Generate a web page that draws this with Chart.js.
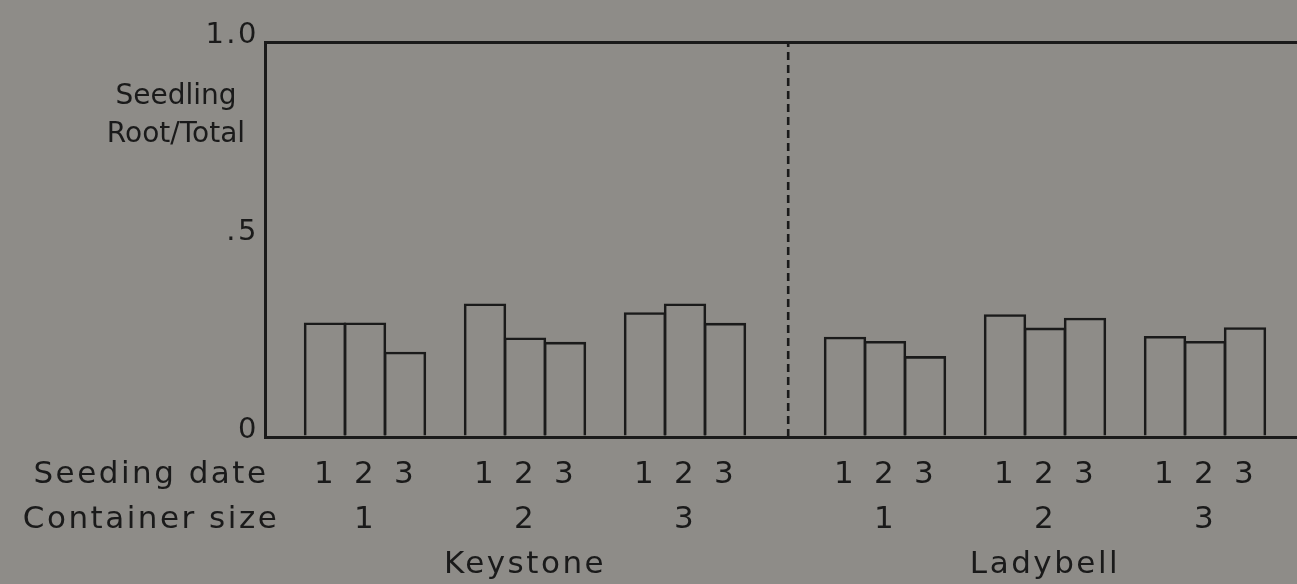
<!DOCTYPE html>
<html>
<head>
<meta charset="utf-8">
<script src="https://cdn.jsdelivr.net/npm/chart.js@4/dist/chart.umd.min.js"></script>
<style>
  html, body { margin: 0; padding: 0; background: #8e8c88; overflow: hidden; }
  #wrap { position: relative; width: 1297px; height: 584px; }
  canvas { display: block; }
</style>
</head>
<body>
<div id="wrap"><canvas id="chart" width="1297" height="584"></canvas></div>
<script>
// Root / total dry-weight ratio of seedlings, by variety, container size and seeding date
const varieties = ['Keystone', 'Ladybell'];
const containerSizes = ['1', '2', '3'];
const seedingDates = ['1', '2', '3'];
// values run container 1 (dates 1-3), container 2 (dates 1-3), container 3 (dates 1-3)
const keystoneRatio = [0.290, 0.290, 0.216, 0.338, 0.252, 0.241, 0.316, 0.338, 0.289];
const ladybellRatio = [0.254, 0.243, 0.205, 0.311, 0.277, 0.302, 0.256, 0.243, 0.278];
const yTickValues = [0, 0.5, 1];
const yTickLabels = ['0', '.5', '1.0'];
const yTitleLines = ['Seedling', 'Root/Total'];
const rowHeaders = ['Seeding date', 'Container size'];

const INK = '#1a1a1a';
const FONT = "'DejaVu Sans', sans-serif";
const LABEL_SIZE = 31;
const ROW_STEP = 45;
const X_PAD = 15;
const SPACING = '2.5px';

// slot layout on the x scale: one empty slot between container groups,
// two empty slots between the varieties (the divider sits in between)
const GROUP_SLOTS = 4;
const VARIETY_SLOTS = 13;
function slotCentre(v, c, d) { return 1.5 + d + c * GROUP_SLOTS + v * VARIETY_SLOTS; }
const dividerX = VARIETY_SLOTS + 0.08;

const seriesByVariety = [keystoneRatio, ladybellRatio];
const bars = [];
const tickInfo = [];
varieties.forEach((variety, v) => {
  containerSizes.forEach((size, c) => {
    seedingDates.forEach((date, d) => {
      const x = slotCentre(v, c, d);
      bars.push({ x: x, y: seriesByVariety[v][c * seedingDates.length + d] });
      tickInfo.push({
        value: x,
        lines: [date, d === 1 ? size : '', (d === 1 && c === 1) ? variety : '']
      });
    });
  });
});

// axis captions drawn beside the scales
const captions = {
  id: 'captions',
  beforeDraw(chart) {
    chart.ctx.letterSpacing = SPACING;
  },
  afterDraw(chart) {
    const ctx = chart.ctx;
    const xs = chart.scales.x;
    ctx.save();
    ctx.letterSpacing = SPACING;
    ctx.fillStyle = INK;
    ctx.font = LABEL_SIZE + 'px ' + FONT;
    ctx.textAlign = 'center';
    ctx.textBaseline = 'middle';
    rowHeaders.forEach((t, i) => {
      ctx.fillText(t, 151, xs.top + X_PAD + ROW_STEP * (i + 0.5));
    });
    ctx.letterSpacing = '0px';
    ctx.font = '28px ' + FONT;
    yTitleLines.forEach((t, i) => {
      ctx.fillText(t, 176, 97 + i * 38);
    });
    ctx.restore();
  }
};

Chart.defaults.font.family = FONT;
Chart.defaults.color = INK;

new Chart(document.getElementById('chart'), {
  type: 'bar',
  data: {
    datasets: [
      {
        type: 'bar',
        data: bars,
        backgroundColor: 'rgba(0,0,0,0)',
        borderColor: INK,
        borderWidth: 2.6,
        barPercentage: 1.06,
        categoryPercentage: 1
      },
      {
        type: 'line',
        data: [{ x: dividerX, y: 0 }, { x: dividerX, y: 1 }],
        borderColor: INK,
        borderWidth: 2.6,
        borderDash: [8, 5],
        pointRadius: 0,
        fill: false
      }
    ]
  },
  options: {
    responsive: false,
    animation: false,
    devicePixelRatio: 1,
    layout: { padding: { top: 42, right: 0, left: 0, bottom: 0 } },
    plugins: { legend: { display: false }, tooltip: { enabled: false } },
    scales: {
      x: {
        type: 'linear',
        min: 0,
        max: 25.8,
        offset: false,
        grid: { display: false, drawTicks: false },
        border: { display: true, color: INK, width: 3 },
        afterBuildTicks(scale) { scale.ticks = tickInfo.map(t => ({ value: t.value })); },
        afterFit(scale) { scale.height = 147; },
        ticks: {
          autoSkip: false,
          maxRotation: 0,
          minRotation: 0,
          padding: X_PAD,
          color: INK,
          font: { size: LABEL_SIZE, lineHeight: ROW_STEP / LABEL_SIZE },
          callback(value) {
            const t = tickInfo.find(k => Math.abs(k.value - value) < 1e-6);
            return t ? t.lines : '';
          }
        }
      },
      y: {
        min: 0,
        max: 1,
        afterBuildTicks(scale) { scale.ticks = yTickValues.map(v => ({ value: v })); },
        afterFit(scale) { scale.width = 265; },
        grid: {
          drawTicks: false,
          lineWidth: 3,
          color: c => (c.tick && c.tick.value === 1) ? INK : 'rgba(0,0,0,0)'
        },
        border: { display: true, color: INK, width: 3 },
        ticks: {
          padding: 6,
          labelOffset: -7,
          color: INK,
          font: { size: 29 },
          callback(value) {
            const i = yTickValues.indexOf(value);
            return i >= 0 ? yTickLabels[i] : '';
          }
        }
      }
    }
  },
  plugins: [captions]
});
</script>
</body>
</html>
